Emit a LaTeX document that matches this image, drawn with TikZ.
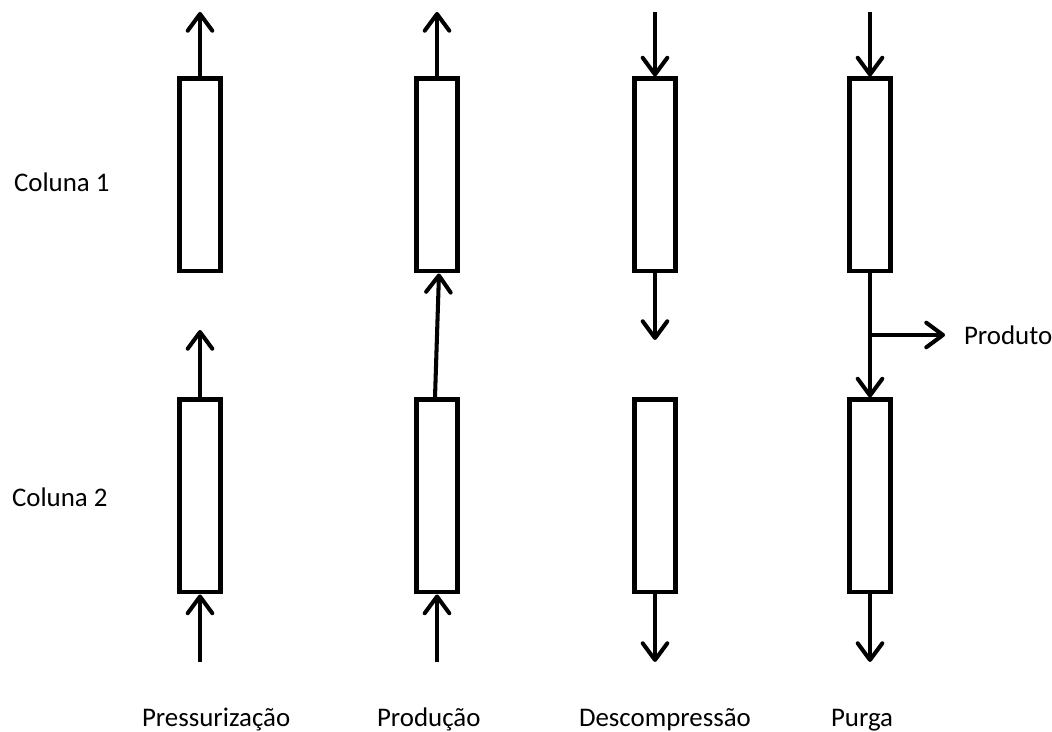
\documentclass[tikz,border=0pt]{standalone}
\usepackage{fontspec}
\setmainfont{Carlito}
\usetikzlibrary{arrows.meta}

\begin{document}
\begin{tikzpicture}[x=0.02cm,y=-0.02cm,line width=2.3pt,
    >={Straight Barb[length=9.5pt,width=14pt,line join=round,line cap=round]}]
    \tikzstyle{column}=[draw,rectangle,minimum width=0.82cm,minimum height=3.86cm,inner sep=0pt]
    \tikzstyle{flow}=[->]
    \tikzstyle{annot}=[font=\fontsize{15.3}{18}\selectfont,inner sep=0pt]

    \useasboundingbox (0,0) rectangle (1052,732);

    % Draw the two columns of each step
    \foreach \name / \x in {P/200, Q/437, D/655, G/870}{
        \node[column] (\name-1) at (\x,175) {};
        \node[column] (\name-2) at (\x,496) {};
    }

    % Free ends of the streams
    \foreach \name / \x in {P/200, Q/437, D/655, G/870}{
        \coordinate (\name-top) at (\x,12);
        \coordinate (\name-bot) at (\x,662);
    }
    \coordinate (P-mid) at (200,330);
    \coordinate (D-mid) at (655,340);
    \coordinate (G-tee) at (870,335);
    \coordinate (G-out) at (945,335);

    % Pressurizacao
    \draw[flow] (P-1.north) -- (P-top);
    \draw[flow] (P-2.north) -- (P-mid);
    \draw[flow] (P-bot) -- (P-2.south);

    % Producao
    \draw[flow] (Q-1.north) -- (Q-top);
    \draw[flow] ([xshift=-0.04cm]Q-2.north) -- ([xshift=0.04cm]Q-1.south);
    \draw[flow] (Q-bot) -- (Q-2.south);

    % Descompressao
    \draw[flow] (D-top) -- (D-1.north);
    \draw[flow] (D-1.south) -- (D-mid);
    \draw[flow] (D-2.south) -- (D-bot);

    % Purga
    \draw[flow] (G-top) -- (G-1.north);
    \draw[flow] (G-1.south) -- (G-2.north);
    \draw[flow] (G-tee) -- (G-out);
    \draw[flow] (G-2.south) -- (G-bot);

    % Annotate the columns and the steps
    \node[annot,anchor=west] (c1) at (12,182) {Coluna 1};
    \node[annot,anchor=west] (c2) at (10,497) {Coluna 2};
    \node[annot,anchor=west] (prod) at (962,335) {Produto};
    \node[annot,anchor=base west] (s1) at (140,727) {Pressurização};
    \node[annot,anchor=base west] (s2) at (375,727) {Produção};
    \node[annot,anchor=base west] (s3) at (577,727) {Descompressão};
    \node[annot,anchor=base west] (s4) at (829,727) {Purga};
\end{tikzpicture}
\end{document}
